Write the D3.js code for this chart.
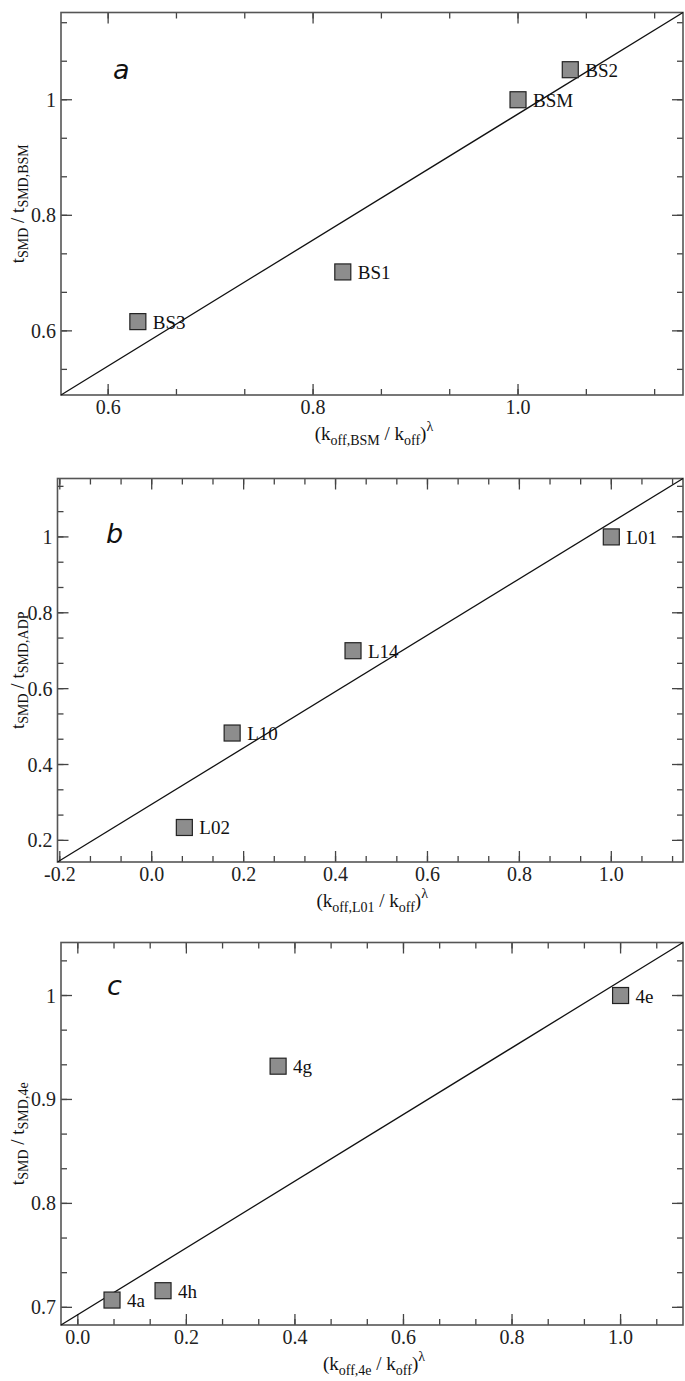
<!DOCTYPE html>
<html>
<head>
<meta charset="utf-8">
<script src="https://cdn.jsdelivr.net/npm/d3@7"></script>
<style>
  body { margin: 0; background: #fff; }
  svg { display: block; }
  .tick-label { font-family: "Liberation Serif", "DejaVu Serif", serif; font-size: 20px; fill: #222; }
  .pt-label { font-family: "Liberation Serif", serif; font-size: 19px; fill: #111; }
  .title { font-family: "Liberation Serif", serif; font-size: 19px; fill: #111; }
  .letter { font-family: "DejaVu Sans", sans-serif; font-style: italic; font-size: 27px; fill: #111; }
</style>
</head>
<body>
<svg width="685" height="1381"></svg>
<script>
// panel a
var namesA = ['BS2', 'BSM', 'BS1', 'BS3'];
var xA = [1.051, 1.0, 0.829, 0.629];
var yA = [1.052, 1.0, 0.702, 0.616];
var fitA = [[0.554, 0.489], [1.161, 1.151]];
var xTicksA = [0.6, 0.8, 1.0];
var yTicksA = [0.6, 0.8, 1];

// panel b
var namesB = ['L01', 'L14', 'L10', 'L02'];
var xB = [1.0, 0.438, 0.175, 0.071];
var yB = [1.0, 0.700, 0.483, 0.234];
var fitB = [[-0.205, 0.143], [1.156, 1.154]];
var xTicksB = [-0.2, 0.0, 0.2, 0.4, 0.6, 0.8, 1.0];
var yTicksB = [0.2, 0.4, 0.6, 0.8, 1];

// panel c
var namesC = ['4e', '4g', '4h', '4a'];
var xC = [1.0, 0.369, 0.157, 0.063];
var yC = [1.0, 0.932, 0.716, 0.707];
var fitC = [[-0.031, 0.683], [1.115, 1.051]];
var xTicksC = [0.0, 0.2, 0.4, 0.6, 0.8, 1.0];
var yTicksC = [0.7, 0.8, 0.9, 1];

var svg = d3.select('svg');

var defs = svg.append('defs');
var pat = defs.append('pattern')
    .attr('id', 'dots')
    .attr('width', 2).attr('height', 2)
    .attr('patternUnits', 'userSpaceOnUse');
pat.append('rect').attr('width', 2).attr('height', 2).attr('fill', '#a8a8a8');
pat.append('rect').attr('width', 1).attr('height', 1).attr('fill', '#727272');
pat.append('rect').attr('x', 1).attr('y', 1).attr('width', 1).attr('height', 1).attr('fill', '#727272');

function drawPanel(p) {
  var g = svg.append('g').attr('transform', `translate(${p.left},${p.top})`);
  var w = p.right - p.left, h = p.bottom - p.top;

  var x = d3.scaleLinear().domain(p.xDomain).range([0, w]);
  var y = d3.scaleLinear().domain(p.yDomain).range([h, 0]);

  // minor ticks: two between each pair of majors
  var xStep = p.xTicks[1] - p.xTicks[0];
  var yStep = p.yTicks[1] - p.yTicks[0];
  var xMinor = d3.range(-20, 40).map(i => p.xTicks[0] + i * xStep / 3)
      .filter(v => v > p.xDomain[0] && v < p.xDomain[1]);
  var yMinor = d3.range(-20, 40).map(i => p.yTicks[0] + i * yStep / 3)
      .filter(v => v > p.yDomain[0] && v < p.yDomain[1]);

  var tickCol = '#444';
  // bottom + top
  [[h, -1], [0, 1]].forEach(function(s) {
    g.selectAll(null).data(xMinor).enter().append('line')
      .attr('x1', d => x(d)).attr('x2', d => x(d))
      .attr('y1', s[0]).attr('y2', s[0] + s[1] * 6)
      .attr('stroke', tickCol).attr('stroke-width', 1.3);
    g.selectAll(null).data(p.xTicks).enter().append('line')
      .attr('x1', d => x(d)).attr('x2', d => x(d))
      .attr('y1', s[0]).attr('y2', s[0] + s[1] * 11)
      .attr('stroke', tickCol).attr('stroke-width', 1.3);
  });
  // left + right
  [[0, 1], [w, -1]].forEach(function(s) {
    g.selectAll(null).data(yMinor).enter().append('line')
      .attr('y1', d => y(d)).attr('y2', d => y(d))
      .attr('x1', s[0]).attr('x2', s[0] + s[1] * 6)
      .attr('stroke', tickCol).attr('stroke-width', 1.3);
    g.selectAll(null).data(p.yTicks).enter().append('line')
      .attr('y1', d => y(d)).attr('y2', d => y(d))
      .attr('x1', s[0]).attr('x2', s[0] + s[1] * 11)
      .attr('stroke', tickCol).attr('stroke-width', 1.3);
  });

  g.append('rect')
    .attr('width', w).attr('height', h)
    .attr('fill', 'none').attr('stroke', '#555').attr('stroke-width', 1.6);

  g.selectAll(null).data(p.xTicks).enter().append('text')
    .attr('class', 'tick-label')
    .attr('x', d => x(d)).attr('y', h + 19)
    .attr('text-anchor', 'middle')
    .text(d => d.toFixed(1));

  g.selectAll(null).data(p.yTicks).enter().append('text')
    .attr('class', 'tick-label')
    .attr('x', -5).attr('y', d => y(d) + 7)
    .attr('text-anchor', 'end')
    .text(d => d === 1 ? '1' : String(d));

  // fit line
  g.append('path')
    .datum(p.fit)
    .attr('d', d3.line().x(d => x(d[0])).y(d => y(d[1])))
    .attr('stroke', '#111').attr('stroke-width', 1.3).attr('fill', 'none');

  // points
  var sz = 16;
  var pts = g.selectAll('.pt').data(p.names).enter().append('g').attr('class', 'pt');
  pts.append('rect')
    .attr('x', (d, i) => x(p.xs[i]) - sz / 2)
    .attr('y', (d, i) => y(p.ys[i]) - sz / 2)
    .attr('width', sz).attr('height', sz)
    .attr('fill', 'url(#dots)').attr('stroke', '#222').attr('stroke-width', 1.2);
  pts.append('text')
    .attr('class', 'pt-label')
    .attr('x', (d, i) => x(p.xs[i]) + sz / 2 + 7)
    .attr('y', (d, i) => y(p.ys[i]) + 7)
    .text(d => d);

  g.append('text').attr('class', 'letter')
    .attr('x', p.letterPos[0] - p.left).attr('y', p.letterPos[1] - p.top)
    .text(p.letter);

  // x title
  var xt = g.append('text').attr('class', 'title')
    .attr('x', w / 2 + 2).attr('y', h + 45).attr('text-anchor', 'middle');
  xt.append('tspan').text('(k');
  xt.append('tspan').attr('dy', 5).attr('font-size', 14).text('off,' + p.ref);
  xt.append('tspan').attr('dy', -5).text(' / k');
  xt.append('tspan').attr('dy', 5).attr('font-size', 14).text('off');
  xt.append('tspan').attr('dy', -5).text(')');
  xt.append('tspan').attr('dy', -9).attr('font-size', 14).text('λ');

  // y title
  var yt = g.append('text').attr('class', 'title')
    .attr('transform', `translate(${24 - p.left},${h / 2}) rotate(-90)`)
    .attr('text-anchor', 'middle');
  yt.append('tspan').text('t');
  yt.append('tspan').attr('dy', 4).attr('font-size', 14).text('SMD');
  yt.append('tspan').attr('dy', -4).text(' / t');
  yt.append('tspan').attr('dy', 4).attr('font-size', 14).text('SMD,' + p.yRef);
}

drawPanel({
  left: 61, right: 683, top: 12.5, bottom: 395,
  xDomain: [0.554, 1.161], yDomain: [0.489, 1.151],
  xTicks: xTicksA, yTicks: yTicksA,
  names: namesA, xs: xA, ys: yA, fit: fitA,
  letter: 'a', letterPos: [113, 79], ref: 'BSM', yRef: 'BSM'
});

drawPanel({
  left: 57.5, right: 683, top: 478.5, bottom: 862,
  xDomain: [-0.205, 1.156], yDomain: [0.143, 1.154],
  xTicks: xTicksB, yTicks: yTicksB,
  names: namesB, xs: xB, ys: yB, fit: fitB,
  letter: 'b', letterPos: [106, 543], ref: 'L01', yRef: 'ADP'
});

drawPanel({
  left: 61, right: 683, top: 942.5, bottom: 1325,
  xDomain: [-0.031, 1.115], yDomain: [0.683, 1.051],
  xTicks: xTicksC, yTicks: yTicksC,
  names: namesC, xs: xC, ys: yC, fit: fitC,
  letter: 'c', letterPos: [107, 995], ref: '4e', yRef: '4e'
});
</script>
</body>
</html>
